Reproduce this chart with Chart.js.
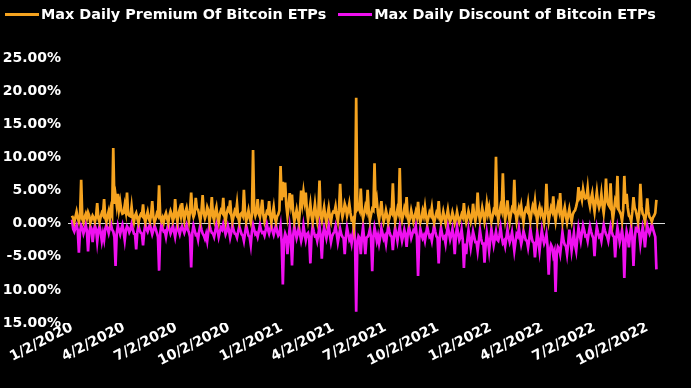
<!DOCTYPE html>
<html>
<head>
<meta charset="utf-8">
<script src="https://cdn.jsdelivr.net/npm/chart.js@4.4.0/dist/chart.umd.min.js"></script>
<style>
  html, body { margin: 0; padding: 0; background: #000; }
  #wrap { position: relative; width: 691px; height: 388px; }
  #legend { position: absolute; top: 6px; left: 5px; display: flex; align-items: center;
            font: bold 14.4px "DejaVu Sans", sans-serif; color: #fff; white-space: nowrap; }
  #legend .item { display: flex; align-items: center; margin-right: 12px; }
  #legend .swatch { width: 34px; height: 3px; margin-right: 2px; }
</style>
</head>
<body>
<div id="wrap">
  <div id="legend"></div>
  <canvas id="chart"></canvas>
</div>
<script>
// one value every 2 calendar days starting 1/2/2020
const startDate = '2020-01-02';
const stepDays = 2;

const seriesNames = ['Max Daily Premium Of Bitcoin ETPs', 'Max Daily Discount of Bitcoin ETPs'];
const seriesColors = ['#f5a31f', '#f010f0'];

const premium = [
  1.2,0.8, 0.2,1.0, 1.8,0.9, 0.3,1.1, 6.6,0.7, 0.2,1.0, 1.5,0.8, 1.7,1.2, 0.1,0.6, 1.2,0.9,
  0.3,1.1, 3.1,0.8, 0.2,1.0, 1.6,1.3, 3.7,0.9, 0.3,1.2, 1.9,0.7, 2.2,1.4, 11.4,3.0, 4.2,2.8,
  4.5,2.2, 3.3,2.0, 1.5,1.6, 2.8,1.8, 4.7,1.4, 1.2,1.1, 2.6,0.9, 0.2,1.2, 1.6,0.8, 0.1,1.0,
  1.4,1.2, 2.9,0.9, 0.2,1.1, 1.8,0.8, 0.3,1.3, 3.4,1.0, 0.2,0.7, 1.5,1.2, 5.8,1.0, 0.4,0.9,
  0.2,1.1, 1.6,0.8, 0.1,1.2, 1.9,1.4, 0.4,1.0, 3.7,1.3, 0.3,1.6, 2.2,1.2, 3.1,1.5, 0.5,1.8,
  2.4,1.4, 0.4,2.0, 4.7,1.7, 1.0,1.5, 3.9,2.2, 2.1,1.3, 0.4,1.9, 4.3,1.6, 0.8,1.4, 2.5,2.0,
  0.3,1.5, 4.0,1.2, 0.5,1.8, 2.5,1.0, 0.2,1.4, 2.0,1.7, 3.9,1.2, 0.3,1.6, 2.2,1.9, 3.5,1.3,
  0.3,1.1, 1.9,1.5, 3.0,1.0, 0.2,1.4, 1.6,1.2, 5.1,1.6, 0.3,1.1, 2.0,0.9, 0.2,1.3, 11.1,2.0,
  1.2,1.8, 3.7,1.5, 1.0,2.1, 3.6,1.3, 0.3,1.0, 1.8,1.6, 3.4,1.2, 0.2,1.4, 2.5,0.9, 0.2,1.1,
  1.4,2.0, 8.7,3.5, 6.3,4.0, 6.2,2.8, 1.2,2.6, 4.6,3.0, 4.4,1.6, 0.3,1.2, 2.1,1.0, 0.2,2.2,
  5.0,3.2, 4.8,3.4, 4.7,2.0, 0.6,1.8, 3.0,1.2, 0.3,1.6, 3.0,1.4, 0.4,1.8, 6.5,1.2, 0.5,1.5,
  2.5,1.1, 0.2,1.3, 2.4,1.0, 0.3,1.4, 1.8,1.7, 2.6,1.2, 0.4,2.0, 6.0,2.2, 1.0,1.8, 3.0,2.4,
  1.2,2.0, 3.0,1.6, 0.6,0.8, -0.6,1.5, 19.0,2.2, 2.5,2.0, 5.3,1.8, 0.8,1.6, 2.6,2.0, 5.1,1.8,
  0.5,1.4, 2.2,2.0, 9.1,2.4, 3.5,1.6, 0.6,1.9, 3.4,1.3, 0.3,1.0, 2.0,1.2, 0.2,0.9, 1.9,1.6,
  6.1,1.8, 0.3,1.2, 2.2,1.6, 8.4,1.4, 0.5,1.3, 2.3,1.7, 4.0,1.1, 0.2,0.9, 2.0,1.2, 0.3,1.0,
  1.8,1.1, 3.3,1.0, 0.2,0.8, 1.9,1.2, 2.5,1.0, 0.2,0.9, 1.7,1.3, 2.4,0.8, 0.1,0.9, 1.6,1.2,
  3.4,1.0, 0.2,0.8, 1.8,0.9, 0.1,1.1, 2.1,0.9, 0.3,0.8, 1.7,1.0, 0.1,0.7, 1.8,0.9, 0.2,0.8,
  1.4,1.0, 3.1,1.1, 0.2,0.9, 1.9,1.2, 0.3,1.0, 3.0,1.3, 0.4,1.4, 4.7,1.6, 0.5,1.2, 2.4,1.5,
  0.3,1.3, 3.0,1.6, 2.5,1.2, 0.3,1.1, 2.0,1.7, 10.1,1.9, 0.5,1.5, 2.6,2.0, 7.6,2.2, 0.6,1.8,
  3.5,1.6, 0.3,1.4, 2.3,2.0, 6.6,1.8, 0.4,1.5, 2.4,1.7, 2.7,1.3, 0.2,1.6, 2.2,1.9, 3.1,1.4,
  0.4,1.7, 2.6,2.0, 3.4,1.5, 0.3,1.8, 2.5,1.4, 2.0,1.2, 0.2,1.6, 6.0,2.0, 0.4,1.5, 2.4,1.9,
  4.1,1.6, 0.4,1.8, 2.8,2.0, 4.6,1.5, 0.3,1.7, 2.5,1.2, 0.2,1.3, 2.2,1.1, 0.3,1.4, 1.8,2.0,
  2.6,3.4, 5.5,4.0, 4.4,3.6, 5.2,4.2, 3.8,3.9, 5.4,3.5, 2.6,3.8, 4.6,3.0, 1.8,3.4, 4.8,3.2,
  2.4,3.0, 4.5,2.8, 1.6,3.2, 6.8,3.5, 2.9,2.6, 6.1,2.4, 0.5,2.0, 3.5,3.0, 7.2,2.2, 1.8,1.4,
  0.4,2.0, 7.2,3.0, 4.5,2.4, 1.2,1.0, 0.3,1.8, 4.0,2.4, 2.0,1.2, 0.3,1.6, 6.0,2.6, 1.5,1.2,
  0.3,1.4, 3.8,1.8, 1.0,0.8, 0.3,0.9, 1.2,1.6, 3.6
];

const discount = [
  0.6,-0.8, -1.2,-0.6, -0.2,-1.0, -4.4,-1.2, -0.3,-0.7, -1.5,-0.9, -0.2,-1.1, -4.2,-1.4, -0.4,-0.8, -2.8,-1.2,
  -0.3,-0.9, -2.7,-1.1, -0.4,-1.3, -2.6,-1.5, -2.4,-0.8, -0.2,-0.7, -1.4,-0.6, -0.1,-0.9, -1.2,-2.0, -6.4,-1.5,
  -0.3,-1.0, -1.6,-0.8, -0.2,-1.2, -2.5,-1.0, -0.4,-0.7, -1.3,-0.9, -0.1,-0.8, -1.5,-1.6, -3.9,-1.3, -0.3,-1.0,
  -1.4,-1.5, -3.3,-1.2, -0.2,-0.8, -1.2,-0.6, -0.1,-0.9, -1.6,-1.0, -0.3,-0.8, -1.4,-2.0, -7.1,-1.4, -0.2,-0.7,
  -1.2,-1.1, -2.0,-0.9, -0.1,-0.8, -1.5,-1.0, -0.3,-1.1, -2.0,-0.9, -0.2,-1.0, -1.6,-0.8, -0.4,-0.9, -1.4,-0.8,
  -0.2,-0.9, -1.3,-2.0, -6.6,-1.4, -0.3,-1.0, -1.7,-1.6, -2.4,-1.1, -0.2,-0.9, -1.5,-1.8, -2.3,-1.6, -2.6,-1.2,
  -0.3,-0.9, -1.4,-1.5, -2.0,-1.1, -0.2,-1.0, -2.0,-1.2, -0.6,-0.9, -0.1,-0.8, -1.6,-1.1, -0.3,-1.0, -2.1,-1.3,
  -0.2,-1.0, -1.5,-1.6, -2.1,-1.2, -0.4,-1.0, -1.6,-1.8, -2.6,-1.4, -0.3,-1.0, -1.8,-2.0, -3.2,-1.2, -0.2,-0.9,
  -1.6,-1.4, -2.0,-1.2, -0.2,-1.0, -1.4,-1.3, -1.8,-1.0, -0.1,-0.9, -1.5,-0.8, -0.3,-1.1, -1.7,-1.0, -0.2,-1.2,
  -1.8,-1.5, -0.4,-3.0, -9.2,-2.5, -1.5,-2.0, -4.6,-2.4, -0.6,-2.2, -6.3,-1.8, -0.4,-1.3, -2.2,-1.5, -0.5,-1.6,
  -2.6,-1.8, -0.3,-1.5, -2.5,-1.6, -1.4,-2.2, -6.0,-1.9, -0.4,-1.2, -1.9,-1.8, -2.6,-1.6, -0.4,-2.0, -5.3,-1.7,
  -0.6,-1.4, -2.2,-1.2, -0.3,-1.6, -2.8,-1.9, -1.5,-1.2, -0.4,-1.5, -2.8,-1.8, -0.8,-1.6, -2.0,-2.2, -4.6,-2.0,
  -0.6,-1.5, -2.4,-2.0, -3.0,-1.8, -0.4,-2.5, -13.3,-3.0, -1.9,-2.2, -4.6,-2.0, -0.5,-2.4, -4.6,-2.1, -2.0,-1.6,
  -0.8,-2.2, -7.2,-2.0, -0.6,-1.5, -2.6,-1.8, -3.0,-2.0, -0.7,-1.5, -2.3,-1.9, -3.0,-1.6, -0.4,-1.2, -1.8,-2.0,
  -4.0,-1.8, -0.6,-1.6, -2.6,-1.4, -0.4,-1.6, -2.6,-1.8, -0.9,-1.7, -3.5,-1.5, -0.5,-1.3, -2.2,-1.6, -1.0,-1.2,
  -0.4,-2.0, -7.9,-2.4, -0.8,-1.6, -2.2,-1.8, -2.6,-1.5, -0.5,-1.3, -2.0,-1.8, -2.6,-1.4, -0.3,-1.2, -1.9,-2.2,
  -6.0,-1.9, -0.6,-1.6, -2.2,-2.0, -3.0,-1.5, -0.4,-1.4, -2.4,-1.7, -0.8,-2.0, -4.6,-1.8, -0.5,-1.5, -2.5,-2.0,
  -0.9,-2.4, -6.7,-3.0, -4.6,-2.5, -1.0,-2.2, -3.6,-2.4, -1.2,-2.0, -2.8,-2.8, -4.1,-2.6, -1.0,-2.2, -3.0,-3.0,
  -5.9,-3.2, -1.4,-2.6, -4.1,-2.4, -0.8,-2.0, -3.2,-2.2, -1.2,-2.4, -2.6,-1.8, -0.6,-2.0, -2.9,-2.6, -3.4,-2.2,
  -0.9,-2.0, -2.8,-2.2, -1.3,-2.6, -4.1,-2.8, -1.6,-1.9, -0.7,-2.0, -3.1,-2.3, -1.1,-1.8, -2.5,-2.6, -3.6,-2.4,
  -0.8,-2.0, -2.7,-2.9, -5.1,-3.2, -1.3,-2.6, -4.1,-2.4, -1.0,-2.2, -3.0,-2.5, -1.6,-3.4, -7.7,-4.0, -3.2,-3.6,
  -4.8,-4.2, -10.3,-4.5, -3.5,-3.8, -4.6,-3.0, -1.3,-2.6, -3.2,-3.4, -4.6,-3.0, -0.9,-2.4, -4.1,-2.8, -1.4,-3.2,
  -4.1,-2.2, -0.6,-1.6, -2.6,-1.4, -0.3,-1.0, -1.9,-1.8, -2.6,-1.4, -0.4,-1.2, -1.8,-2.2, -4.9,-2.0, -0.5,-1.3,
  -2.0,-1.8, -2.6,-1.4, -0.2,-1.0, -1.6,-1.9, -2.6,-1.5, -0.4,-1.2, -1.8,-2.0, -5.1,-2.2, -0.6,-1.6, -2.8,-2.0,
  -1.0,-2.4, -8.2,-2.8, -1.2,-2.0, -3.6,-1.7, -0.4,-2.2, -6.4,-2.4, -0.8,-1.0, -0.2,-1.4, -3.1,-1.8, -0.6,-1.6,
  -3.6,-1.5, -0.3,-1.0, -1.5,-0.9, -0.1,-0.8, -1.4,-2.0, -6.9
];

const xTickLabels = ['1/2/2020', '4/2/2020', '7/2/2020', '10/2/2020', '1/2/2021', '4/2/2021',
                     '7/2/2021', '10/2/2021', '1/2/2022', '4/2/2022', '7/2/2022', '10/2/2022'];
const yTickValues = [25, 20, 15, 10, 5, 0, -5, -10, -15];
const yTickLabels = ['25.00%', '20.00%', '15.00%', '10.00%', '5.00%', '0.00%', '-5.00%', '10.00%', '15.00%'];

const DAY = 86400000;
const t0 = Date.parse(startDate);
function dayOffset(label) {
    const [m, d, y] = label.split('/').map(Number);
    return Math.round((Date.UTC(y, m - 1, d) - t0) / DAY);
}
const xTickDays = xTickLabels.map(dayOffset);

// legend
document.getElementById('legend').innerHTML = seriesNames.map((n, i) => `
    <div class="item"><span class="swatch" style="background:${seriesColors[i]}"></span><span>${n}</span></div>
`).join('');

const tickFont = { family: '"DejaVu Sans", sans-serif', size: 14, weight: 'bold' };

new Chart(document.getElementById('chart'), {
    type: 'line',
    data: {
        datasets: [premium, discount].map((vals, i) => ({
            label: seriesNames[i],
            data: vals.map((v, k) => ({ x: k * stepDays, y: v })),
            borderColor: seriesColors[i],
            backgroundColor: seriesColors[i],
            borderWidth: 2.7,
            pointRadius: 0,
            tension: 0
        }))
    },
    options: {
        responsive: true,
        maintainAspectRatio: false,
        animation: false,
        layout: { padding: { top: 58, right: 26, bottom: 0, left: 0 } },
        plugins: { legend: { display: false }, tooltip: { enabled: false } },
        scales: {
            x: {
                type: 'linear',
                min: -7,
                max: 1035,
                grid: { display: false, drawTicks: false },
                border: { display: false },
                afterBuildTicks: s => { s.ticks = xTickDays.map(v => ({ value: v })); },
                afterFit: s => { s.height = 65; },
                ticks: {
                    color: '#fff',
                    font: tickFont,
                    minRotation: 27,
                    maxRotation: 27,
                    padding: -4,
                    autoSkip: false,
                    callback: (v) => xTickLabels[xTickDays.indexOf(v)]
                }
            },
            y: {
                min: -15,
                max: 25,
                border: { display: false },
                afterFit: s => { s.width = 68; },
                afterBuildTicks: s => { s.ticks = yTickValues.map(v => ({ value: v })); },
                grid: {
                    drawTicks: false,
                    color: c => c.tick && c.tick.value === 0 ? '#dddddd' : 'transparent',
                    lineWidth: 1
                },
                ticks: {
                    color: '#fff',
                    font: tickFont,
                    padding: 7,
                    callback: (v) => yTickLabels[yTickValues.indexOf(v)]
                }
            }
        }
    }
});
</script>
</body>
</html>
